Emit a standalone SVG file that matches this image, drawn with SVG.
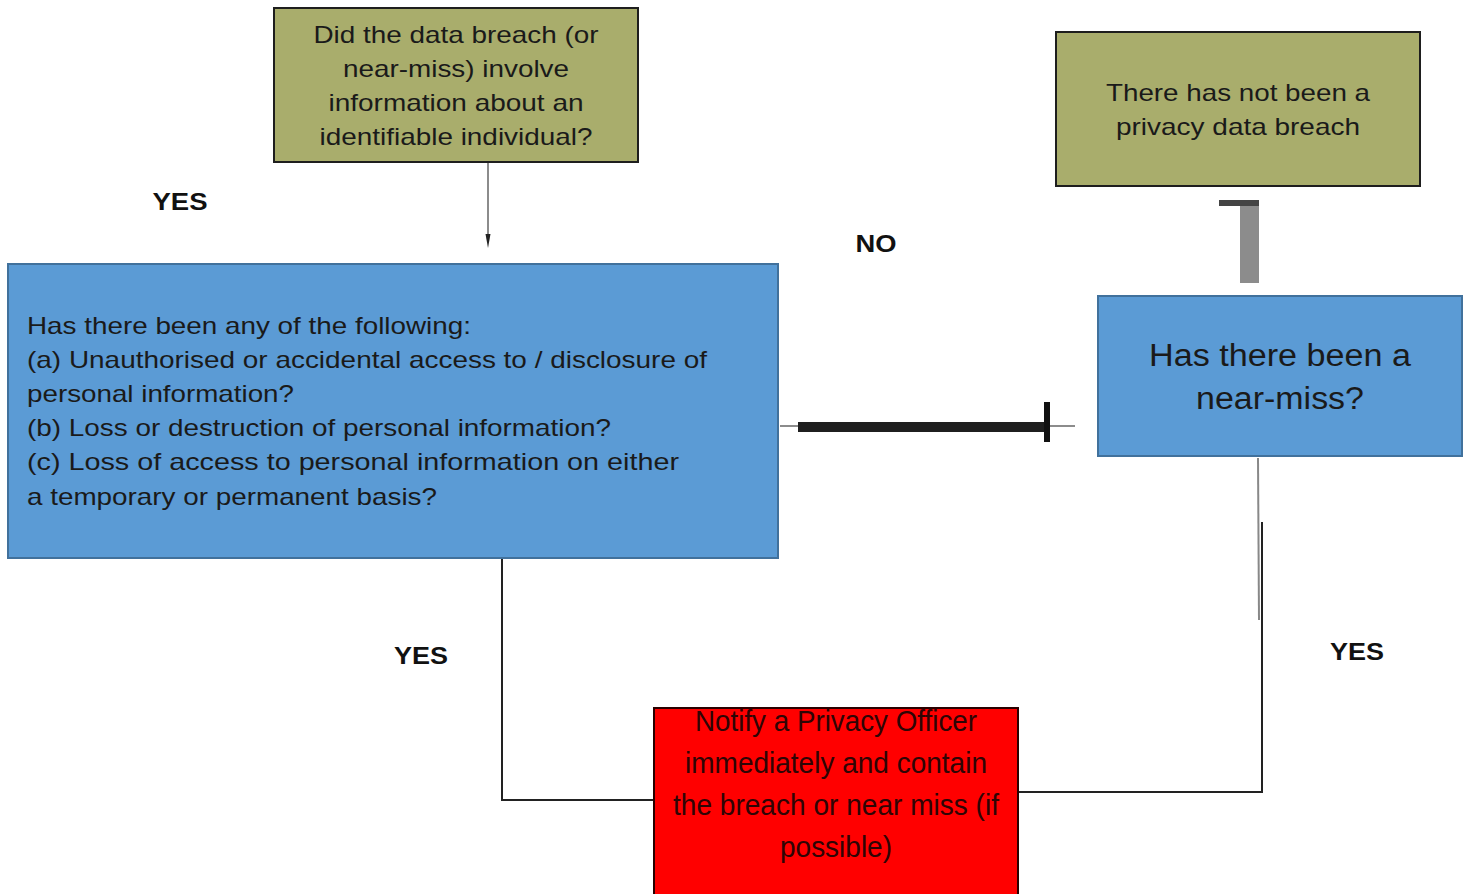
<svg xmlns="http://www.w3.org/2000/svg" width="1467" height="894" viewBox="0 0 1467 894">
<style>
.green{fill:#a9ad6c;stroke:#1e1e1e;stroke-width:2}
.blue{fill:#5b9bd5;stroke:#41719c;stroke-width:2}
.red{fill:#ff0000;stroke:#2a0000;stroke-width:2}
.t{font-family:"Liberation Sans",Arial,sans-serif;font-size:24px;fill:#1a1a1a}
.c{text-anchor:middle}
.big{font-size:31px;fill:#1a1a1a}
.rt{font-family:"Liberation Sans",Arial,sans-serif;font-size:29px;fill:#2e0505;text-anchor:middle}
.lbl{font-family:"Liberation Sans",Arial,sans-serif;font-size:24px;font-weight:bold;fill:#111;text-anchor:middle}
.ln{fill:none;stroke:#222;stroke-width:2}
</style>
<g id="connectors">
<line x1="488" y1="163" x2="488" y2="238" stroke="#666" stroke-width="1.5"/>
<path d="M485.5,234 L490.5,234 L488,248 z" fill="#222"/>
<line x1="780" y1="426" x2="1075" y2="426" stroke="#666" stroke-width="1.5"/>
<rect x="798" y="422" width="250" height="10" fill="#1f1f1f"/>
<rect x="1044" y="402" width="6" height="40" fill="#111"/>
<rect x="1240" y="200" width="19" height="83" fill="#8c8c8c"/>
<rect x="1219" y="200" width="40" height="6" fill="#444"/>
<line x1="1258" y1="458" x2="1259" y2="620" stroke="#888" stroke-width="2"/>
<polyline class="ln" points="1262,522 1262,792 1018,792"/>
<polyline class="ln" points="502,558 502,800 654,800"/>
</g>
<g id="node-q1">
<rect class="green" x="274" y="8" width="364" height="154"/>
<text class="t c" x="456" y="43" textLength="285" lengthAdjust="spacingAndGlyphs">Did the data breach (or</text>
<text class="t c" x="456" y="77" textLength="226" lengthAdjust="spacingAndGlyphs">near-miss) involve</text>
<text class="t c" x="456" y="111" textLength="255" lengthAdjust="spacingAndGlyphs">information about an</text>
<text class="t c" x="456" y="145" textLength="273" lengthAdjust="spacingAndGlyphs">identifiable individual?</text>
</g>
<g id="node-nobreach">
<rect class="green" x="1056" y="32" width="364" height="154"/>
<text class="t c" x="1238" y="101" textLength="264" lengthAdjust="spacingAndGlyphs">There has not been a</text>
<text class="t c" x="1238" y="135" textLength="244" lengthAdjust="spacingAndGlyphs">privacy data breach</text>
</g>
<g id="node-q2">
<rect class="blue" x="8" y="264" width="770" height="294"/>
<text class="t" x="27" y="334" textLength="444" lengthAdjust="spacingAndGlyphs">Has there been any of the following:</text>
<text class="t" x="27" y="368" textLength="680" lengthAdjust="spacingAndGlyphs">(a) Unauthorised or accidental access to / disclosure of</text>
<text class="t" x="27" y="402" textLength="267" lengthAdjust="spacingAndGlyphs">personal information?</text>
<text class="t" x="27" y="436" textLength="584" lengthAdjust="spacingAndGlyphs">(b) Loss or destruction of personal information?</text>
<text class="t" x="27" y="470" textLength="652" lengthAdjust="spacingAndGlyphs">(c) Loss of access to personal information on either</text>
<text class="t" x="27" y="505" textLength="410" lengthAdjust="spacingAndGlyphs">a temporary or permanent basis?</text>
</g>
<g id="node-nearmiss">
<rect class="blue" x="1098" y="296" width="364" height="160"/>
<text class="t c big" x="1280" y="366" textLength="262" lengthAdjust="spacingAndGlyphs">Has there been a</text>
<text class="t c big" x="1280" y="409" textLength="168" lengthAdjust="spacingAndGlyphs">near-miss?</text>
</g>
<g id="node-notify">
<rect class="red" x="654" y="708" width="364" height="190"/>
<text class="rt" x="836" y="731" textLength="282" lengthAdjust="spacingAndGlyphs">Notify a Privacy Officer</text>
<text class="rt" x="836" y="773" textLength="302" lengthAdjust="spacingAndGlyphs">immediately and contain</text>
<text class="rt" x="836" y="815" textLength="326" lengthAdjust="spacingAndGlyphs">the breach or near miss (if</text>
<text class="rt" x="836" y="857" textLength="112" lengthAdjust="spacingAndGlyphs">possible)</text>
</g>
<g id="labels">
<text class="lbl" x="180" y="210" textLength="55" lengthAdjust="spacingAndGlyphs">YES</text>
<text class="lbl" x="876" y="252" textLength="41" lengthAdjust="spacingAndGlyphs">NO</text>
<text class="lbl" x="421" y="664" textLength="54" lengthAdjust="spacingAndGlyphs">YES</text>
<text class="lbl" x="1357" y="660" textLength="54" lengthAdjust="spacingAndGlyphs">YES</text>
</g>
</svg>
